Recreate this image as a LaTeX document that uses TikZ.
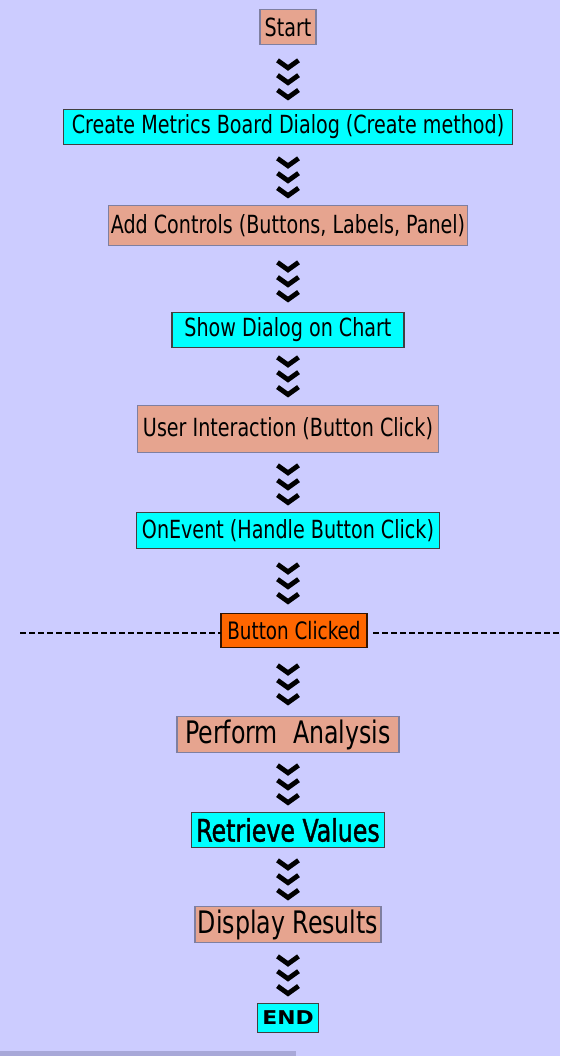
\documentclass[tikz,border=0pt]{standalone}
\usepackage{fontspec}
\setmainfont[FakeStretch=0.85]{DejaVu Sans Condensed}
\newfontfamily\heavyfont[FakeStretch=0.85,FakeBold=1.2]{DejaVu Sans Condensed}
\newfontfamily\endfont[FakeStretch=1.15]{DejaVu Sans}
\usepackage{xcolor}
\usetikzlibrary{arrows.meta,positioning}

\definecolor{bgpurple}{HTML}{CCCCFF}
\definecolor{salmonbox}{HTML}{E6A48F}
\definecolor{cyanbox}{HTML}{00FFFF}
\definecolor{orangebox}{HTML}{FF6600}
\definecolor{boxline}{HTML}{7F7FA0}
\definecolor{barline}{HTML}{A8A8D8}

\tikzset{
  chevron/.tip={Straight Barb[length=7.5pt,width=21pt,line width=4.8pt,color=black,sep=2pt]},
  chev/.style={draw=bgpurple, line width=0.5pt, shorten <=3pt, shorten >=#1,
    -{chevron[]chevron[]chevron[]}},
  chev/.default=5pt,
  stepbox/.style={rectangle, draw=boxline, line width=1.2pt, outer sep=0pt, inner xsep=2pt, inner ysep=0pt, font=\fontsize{25}{27}\selectfont, text=black},
  salmon/.style={stepbox, fill=salmonbox},
  aqua/.style={stepbox, fill=cyanbox, draw=black!75},
}

\begin{document}
\begin{tikzpicture}[x=1pt, y=1pt]
    \useasboundingbox (0,0) rectangle (560,-1056);
    \fill[bgpurple] (0,0) rectangle (560,-1056);
    \fill[barline] (0,-1051) rectangle (296,-1056);
    \node[salmon, minimum width=56pt, minimum height=35pt] (start) at (288,-27) {Start};
    \node[aqua, minimum width=449pt, minimum height=35pt, below=65pt of start] (create) {Create Metrics Board Dialog (Create method)};
    \node[salmon, minimum width=353pt, minimum height=40pt, below=61pt of create] (controls) {Add Controls (Buttons, Labels, Panel)};
    \node[aqua, minimum width=232pt, minimum height=35pt, below=67pt of controls] (show) {Show Dialog on Chart};
    \node[salmon, minimum width=301pt, minimum height=47pt, below=58pt of show] (interact) {User Interaction (Button Click)};
    \node[aqua, minimum width=303pt, minimum height=36pt, below=60pt of interact] (onevent) {OnEvent (Handle Button Click)};
    \node[stepbox, fill=orangebox, draw=black!80!orangebox, minimum width=146pt, minimum height=34pt, below=65pt of onevent, xshift=6pt, font=\fontsize{24}{26}\selectfont] (clicked) {Button Clicked};
    \node[salmon, minimum width=222pt, minimum height=36pt, below=69pt of clicked, xshift=-6pt, font=\fontsize{31}{33}\selectfont] (analysis) {Perform\ \ Analysis};
    \node[aqua, minimum width=193pt, minimum height=35pt, below=60pt of analysis, font=\heavyfont\fontsize{31}{33}\selectfont] (retrieve) {Retrieve Values};
    \node[salmon, minimum width=186pt, minimum height=36pt, below=59pt of retrieve, font=\fontsize{31}{33}\selectfont] (display) {Display Results};
    \node[aqua, minimum width=61pt, minimum height=29pt, below=61pt of display, font=\endfont\bfseries\fontsize{19}{20}\selectfont] (end) {END};
    \coordinate (dashL) at (20,-633);
    \coordinate (dashR) at (560,-633);
    % arrows
    \draw[chev=7pt] (start) -- (create);
    \draw[chev=5pt] (create) -- (controls);
    \draw[chev=8pt] (controls) -- (show);
    \draw[chev=6pt] (show) -- (interact);
    \draw[chev=5pt] (interact) -- (onevent);
    \draw[chev=7pt] (onevent.south) -- (onevent.south |- clicked.north);
    \draw[chev=9pt] (clicked.south -| analysis) -- (analysis);
    \draw[chev=5pt] (analysis) -- (retrieve);
    \draw[chev=4pt] (retrieve) -- (display);
    \draw[chev=5pt] (display) -- (end);
    \draw[dashed, dash pattern=on 6pt off 3pt, line width=1.5pt] (dashL) -- (dashL -| clicked.west);
    \draw[dashed, dash pattern=on 6pt off 3pt, line width=1.5pt] ([xshift=6pt]dashR -| clicked.east) -- (dashR);
\end{tikzpicture}
\end{document}
